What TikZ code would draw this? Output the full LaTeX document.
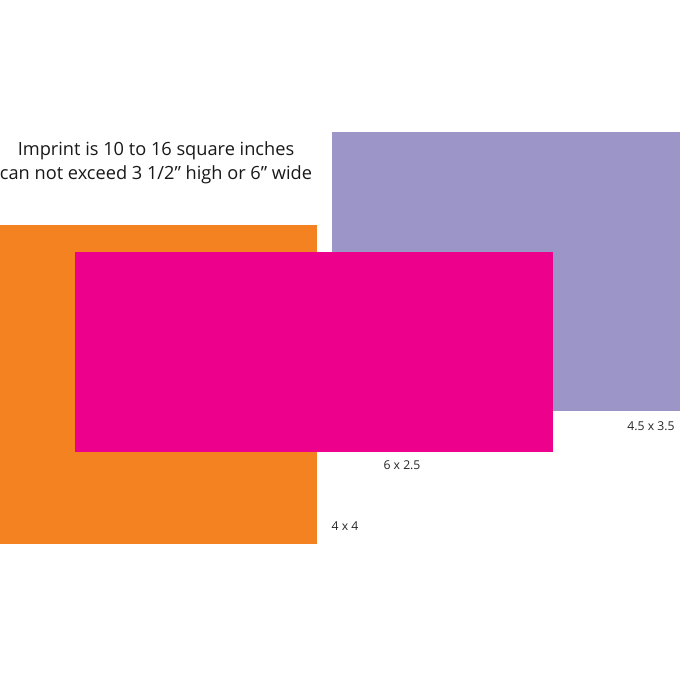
\documentclass[tikz,border=0pt]{standalone}
\usepackage{fontspec}
\setmainfont{Open Sans}
\definecolor{orng}{HTML}{F58220}
\definecolor{purp}{HTML}{9B95C8}
\definecolor{pnk}{HTML}{EC008C}
\begin{document}
\begin{tikzpicture}[x=1pt,y=-1pt,
  sheet/.style={draw=none},
  dimlabel/.style={font=\fontsize{12.2}{14}\selectfont, text=black!85, inner sep=0pt},
  headline/.style={font=\fontsize{18.2}{24}\selectfont, align=center, inner sep=0pt, text=black!90}]
\useasboundingbox[fill=white] (0,0) rectangle (680,680);
\fill[purp] (332,132) rectangle (680,411) coordinate (purpse);
\fill[orng] (0,225) rectangle (316.5,544);
\fill[pnk] (75,252) rectangle (553,451.5);
\node[headline] (title) at (156,163) {Imprint is 10 to 16 square inches\\can not exceed 3 1/2” high or 6” wide};
\node[dimlabel] (l1) at (651,426) {4.5 x 3.5};
\node[dimlabel] (l2) at (402,465) {6 x 2.5};
\node[dimlabel] (l3) at (345,526) {4 x 4};
\end{tikzpicture}
\end{document}
